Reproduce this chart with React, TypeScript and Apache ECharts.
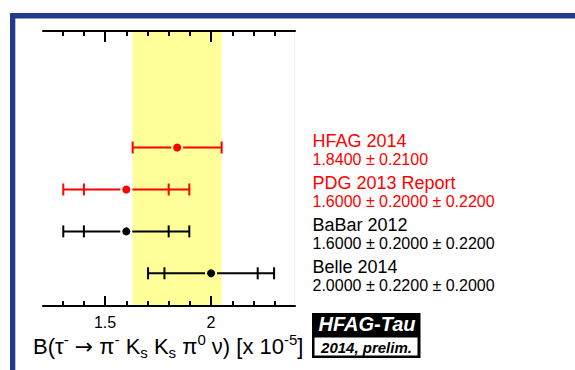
import React, { useEffect, useRef } from "react";
import * as echarts from "echarts";

// Measurements of B(tau- -> pi- Ks Ks pi0 nu), in units of 1e-5
const names = ["HFAG 2014", "PDG 2013 Report", "BaBar 2012", "Belle 2014"];
const values = [1.84, 1.6, 1.6, 2.0];
const statErr = [0.21, 0.2, 0.2, 0.22];
const systErr = [0, 0.22, 0.22, 0.2];
const rowPos = [4, 3, 2, 1];
const colors = ["#ff0000", "#ff0000", "#000000", "#000000"];

const majorTicks = [1.5, 2];
const minorTicks = [1.3, 1.4, 1.6, 1.7, 1.8, 1.9, 2.1, 2.2, 2.3];
const xMin = 1.207;
const xMax = 2.396;

const FONT = "'Liberation Sans', Arial, Helvetica, sans-serif";

const fmt = (i: number) =>
  systErr[i] > 0
    ? `${values[i].toFixed(4)} ± ${statErr[i].toFixed(4)} ± ${systErr[i].toFixed(4)}`
    : `${values[i].toFixed(4)} ± ${statErr[i].toFixed(4)}`;

export default function App() {
  const ref = useRef<HTMLDivElement>(null);

  useEffect(() => {
    if (!ref.current) return;
    const chart = echarts.init(ref.current, null, { renderer: "svg" });

    const tickAxis = (position: "top" | "bottom", ticks: number[], len: number, withLine: boolean, withLabels: boolean) => ({
      type: "value",
      position,
      min: xMin,
      max: xMax,
      z: 2,
      splitLine: { show: false },
      axisLine: { show: withLine, onZero: false, lineStyle: { color: "#000", width: 2 } },
      axisTick: {
        show: true,
        inside: true,
        length: len,
        customValues: ticks,
        lineStyle: { color: "#000", width: 2 },
      },
      axisLabel: {
        show: withLabels,
        customValues: withLabels ? ticks : undefined,
        margin: 8,
        color: "#000",
        fontSize: 16,
        fontFamily: FONT,
      },
    });

    const rows = values.map((v, i) => [v, rowPos[i], statErr[i], systErr[i], i]);

    const option: any = {
      animation: false,
      grid: { left: 43, right: 280, top: 31, bottom: 64 },
      xAxis: [
        tickAxis("bottom", majorTicks, 10, true, true),
        tickAxis("bottom", minorTicks, 5, false, false),
        tickAxis("top", majorTicks, 11, true, false),
        tickAxis("top", minorTicks, 5, false, false),
      ],
      yAxis: { type: "value", min: 0.22, max: 6.78, show: false },
      series: [
        {
          type: "custom",
          data: rows,
          // average band from the first measurement
          markArea: {
            silent: true,
            itemStyle: { color: "#ffff99", borderWidth: 0 },
            label: { show: false },
            data: [[{ xAxis: values[0] - statErr[0] }, { xAxis: values[0] + statErr[0] }]],
          },
          renderItem: (params: any, api: any) => {
            const v = api.value(0);
            const row = api.value(1);
            const st = api.value(2);
            const sy = api.value(3);
            const i = params.dataIndex;
            const col = colors[i];
            const [cx, cy] = api.coord([v, row]);
            const tot = Math.sqrt(st * st + sy * sy);
            const lo = api.coord([v - tot, row])[0];
            const hi = api.coord([v + tot, row])[0];
            const ls = { stroke: col, lineWidth: 2 };
            const cap = (x: number) => ({
              type: "line",
              shape: { x1: x, y1: cy - 6, x2: x, y2: cy + 6 },
              style: ls,
            });
            const children: any[] = [
              { type: "line", shape: { x1: lo, y1: cy, x2: cx - 6, y2: cy }, style: ls },
              { type: "line", shape: { x1: cx + 6, y1: cy, x2: hi, y2: cy }, style: ls },
              cap(lo),
              cap(hi),
            ];
            if (sy > 0) {
              children.push(cap(api.coord([v - st, row])[0]));
              children.push(cap(api.coord([v + st, row])[0]));
            }
            children.push({ type: "circle", shape: { cx, cy, r: 4 }, style: { fill: col } });
            children.push({
              type: "text",
              x: 312.5,
              y: cy - 6.5,
              style: { text: names[i], fill: col, font: `18px ${FONT}`, align: "left", verticalAlign: "middle" },
            });
            children.push({
              type: "text",
              x: 312.5,
              y: cy + 12,
              style: { text: fmt(i), fill: col, font: `16px ${FONT}`, align: "left", verticalAlign: "middle" },
            });
            return { type: "group", children };
          },
        },
      ],
      graphic: [
        // frame
        { type: "rect", shape: { x: 10, y: 13, width: 565, height: 5.5 }, style: { fill: "#243a8c" } },
        { type: "rect", shape: { x: 10, y: 13, width: 5.3, height: 357 }, style: { fill: "#243a8c" } },
        // keep the plot's side edges clean; only a faint right edge
        { type: "rect", z: 100, shape: { x: 41.5, y: 33, width: 3, height: 271 }, style: { fill: "#ffffff" } },
        { type: "rect", z: 100, shape: { x: 293.5, y: 33, width: 3, height: 271 }, style: { fill: "#ffffff" } },
        { type: "line", z: 101, shape: { x1: 294.5, y1: 33, x2: 294.5, y2: 304 }, style: { stroke: "#f1f1f1", lineWidth: 1 } },
        // axis title
        {
          type: "text",
          x: 33,
          y: 332,
          style: {
            text: "{m|B(τ}{sup|-}{m| }{ar|→}{m| π}{sup|-}{m| K}{sub|s}{m| K}{sub|s}{m| π}{sup|0}{m| ν) [x 10}{sup|-5}{m|]}",
            verticalAlign: "top",
            rich: {
              m: { fontSize: 22, fontFamily: FONT, fill: "#000", lineHeight: 28, verticalAlign: "middle" },
              ar: { fontSize: 22, fontFamily: "'DejaVu Sans'", fill: "#000", lineHeight: 28, verticalAlign: "middle" },
              sup: { fontSize: 15, fontFamily: FONT, fill: "#000", lineHeight: 17, verticalAlign: "top" },
              sub: { fontSize: 15, fontFamily: FONT, fill: "#000", lineHeight: 18, verticalAlign: "bottom" },
            },
          },
        },
        // badge
        { type: "rect", shape: { x: 312, y: 313, width: 108.5, height: 45 }, style: { fill: "#000" } },
        { type: "rect", shape: { x: 314.5, y: 337.5, width: 103, height: 18 }, style: { fill: "#fff" } },
        {
          type: "text",
          x: 367,
          y: 323.5,
          style: { text: "HFAG-Tau", fill: "#fff", font: `italic bold 20px ${FONT}`, align: "center", verticalAlign: "middle" },
        },
        {
          type: "text",
          x: 366.5,
          y: 347.5,
          style: { text: "2014, prelim.", fill: "#000", font: `italic bold 15px ${FONT}`, align: "center", verticalAlign: "middle" },
        },
      ],
    };

    chart.setOption(option);
    return () => chart.dispose();
  }, []);

  return <div ref={ref} style={{ position: "absolute", left: 0, top: 0, width: 575, height: 370, background: "#fff" }} />;
}
